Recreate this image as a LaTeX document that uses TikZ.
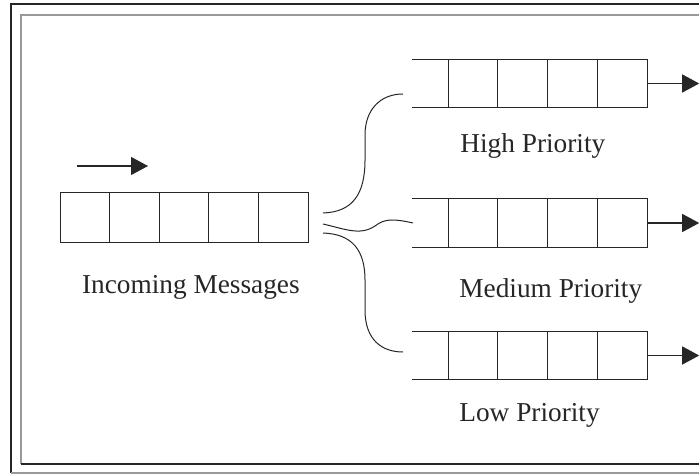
\documentclass[tikz,border=0pt]{standalone}
\usepackage{fontspec}
\setmainfont{Liberation Serif}
\usetikzlibrary{arrows.meta, positioning, calc}

\begin{document}
\begin{tikzpicture}[
    x=0.5pt, y=-0.5pt,
    font=\fontsize{13.65}{16}\selectfont,
    % Queue Cells
    cell/.style={rectangle, draw=black!85, line width=0.5pt, minimum width=24.8pt, minimum height=24.5pt, inner sep=0pt, outer sep=0pt},
    slot/.style={rectangle, draw=black!85, line width=0.5pt, minimum width=24.9pt, minimum height=24pt, inner sep=0pt, outer sep=0pt},
    caption/.style={anchor=base west, text=black!85, inner sep=0pt},
    % Connectors
    link/.style={draw=black!85, line width=0.5pt},
    flow/.style={draw=black!85, line width=0.6pt, -{Triangle[length=8.5pt, width=9pt]}},
    % Frame
    edge_dark/.style={draw=black!85, line width=0.6pt},
    edge_light/.style={draw=black!40, line width=0.6pt},
]
\useasboundingbox (0,0) rectangle (699,475);

% 0. Double Frame
\draw[edge_dark] (699,4) -- (11,4) -- (11,473);
\draw[edge_light] (11,473) -- (699,473);
\draw[edge_light] (699,15) -- (21,15) -- (21,464);
\draw[edge_dark] (21,464) -- (699,464);

% 1. Incoming Queue
\node[cell] (in1) at (84.8,217.5) {};
\node[cell, right=0pt of in1] (in2) {};
\node[cell, right=0pt of in2] (in3) {};
\node[cell, right=0pt of in3] (in4) {};
\node[cell, right=0pt of in4] (in5) {};
\node[caption] (in_label) at ($(in1.south west)+(21.7,51)$) {Incoming Messages};

\coordinate (in_tail) at ($(in1.north west)+(17,-27)$);
\coordinate (in_head) at ($(in1.north west)+(88,-27)$);
\draw[flow] (in_tail) -- (in_head);

% 2. Priority Queues
\node[slot] (hq1) at (472.9,83.5) {};
\node[slot, right=0pt of hq1] (hq2) {};
\node[slot, right=0pt of hq2] (hq3) {};
\node[slot, right=0pt of hq3] (hq4) {};
\draw[link] (hq1.north west) -- ++(-36,0);
\draw[link] (hq1.south west) -- ++(-36,0);
\node[caption] (hi_label) at ($(hq1.south west)+(12,45)$) {High Priority};

\node[slot] (mq1) at (472.9,223) {};
\node[slot, right=0pt of mq1] (mq2) {};
\node[slot, right=0pt of mq2] (mq3) {};
\node[slot, right=0pt of mq3] (mq4) {};
\draw[link] (mq1.north west) -- ++(-36,0);
\draw[link] (mq1.south west) -- ++(-36,0);
\node[caption] (mid_label) at ($(mq1.south west)+(11,50)$) {Medium Priority};

\node[slot] (lq1) at (472.9,355.5) {};
\node[slot, right=0pt of lq1] (lq2) {};
\node[slot, right=0pt of lq2] (lq3) {};
\node[slot, right=0pt of lq3] (lq4) {};
\draw[link] (lq1.north west) -- ++(-36,0);
\draw[link] (lq1.south west) -- ++(-36,0);
\node[caption] (lo_label) at ($(lq1.south west)+(11,42)$) {Low Priority};

% Outgoing arrows
\coordinate (hi_out) at ($(hq4.east)+(52,0)$);
\coordinate (mid_out) at ($(mq4.east)+(52,0)$);
\coordinate (lo_out) at ($(lq4.east)+(52,0)$);
\draw[flow] (hq4.east) -- (hi_out);
\draw[flow] (mq4.east) -- (mid_out);
\draw[flow] (lq4.east) -- (lo_out);

% 3. Dispatch Curves
\coordinate (hi_start) at ($(in5.east)+(15,-4.5)$);
\coordinate (mid_start) at ($(in5.east)+(15,6.5)$);
\coordinate (lo_start) at ($(in5.east)+(15,15.5)$);
\coordinate (hi_end) at ($(hq1.west)+(-45,10.5)$);
\coordinate (mid_end) at ($(mq1.west)+(-35,0)$);
\coordinate (lo_end) at ($(lq1.west)+(-45,-3.5)$);

\draw[link] (hi_start) .. controls +(29,-1) and +(0,35) .. ++(42,-53) -- ++(0,-25) .. controls +(0,-25) and +(-23,0) .. (hi_end);
\draw[link] (mid_start) .. controls +(22,5) and +(-15,10) .. ++(52,2) .. controls +(10,-8) and +(-18,-4) .. (mid_end);
\draw[link] (lo_start) .. controls +(29,1) and +(0,-30) .. ++(42,47) -- ++(0,30) .. controls +(0,30) and +(-21,0) .. (lo_end);

\end{tikzpicture}
\end{document}
